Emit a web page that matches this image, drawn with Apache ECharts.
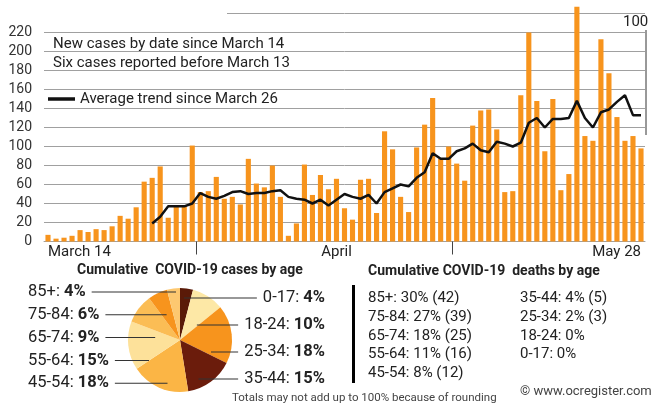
<!DOCTYPE html>
<html>
<head>
<meta charset="utf-8">
<script src="https://cdn.jsdelivr.net/npm/echarts@6/dist/echarts.min.js"></script>
<style>
  html, body { margin: 0; padding: 0; background: #fff; }
  #main { width: 661px; height: 408px; }
</style>
</head>
<body>
<div id="main"></div>
<script>
// new cases, one bar per day
var newCases = [7, 3, 4, 6, 12, 10, 13, 12, 16, 27, 24, 36, 63, 67, 79, 25, 37, 37, 101, 52,
  53, 68, 45, 47, 39, 87, 61, 57, 80, 47, 6, 19, 81, 49, 70, 55, 66, 35, 23, 65,
  66, 30, 116, 97, 47, 31, 99, 123, 151, 87, 100, 82, 64, 122, 138, 139, 118, 52, 53, 154,
  220, 148, 95, 150, 54, 71, 247, 111, 106, 213, 177, 131, 106, 111, 98]
// average trend, first 13 days have no value
var avgTrend = [null, null, null, null, null, null, null, null, null, null, null, null, null,
  19, 26, 37, 37, 37, 40, 51, 47, 45, 48, 52, 53, 50, 51, 51, 53, 54, 47, 45, 44, 40, 44, 38,
  44, 50, 47, 45, 49, 40, 52, 56, 60, 58, 67, 73, 93, 87, 87, 95, 98, 103, 96, 94, 105,
  103, 100, 104, 125, 130, 120, 129, 129, 130, 148, 130, 120, 136, 139, 147, 154, 133, 133]
var xLabels = ['March 14', 'April', 'May 28']
var xLabelAt = [0, 36, 74]
var monthTicks = [19, 51]

var caseAges = ['0-17', '18-24', '25-34', '35-44', '45-54', '55-64', '65-74', '75-84', '85+']
var casePct = [4, 10, 18, 15, 18, 15, 9, 6, 4]
var caseColors = ['#5a1a08', '#fde8a6', '#f7941d', '#6b1c0c', '#fbb545', '#fde19a', '#fbbd55', '#f7941d', '#fdc870']

var deathAges = ['85+', '75-84', '65-74', '55-64', '45-54', '35-44', '25-34', '18-24', '0-17']
var deathPct = [30, 27, 18, 11, 8, 4, 2, 0, 0]
var deathCount = [42, 39, 25, 16, 12, 5, 3, null, null]

var FONT = 'Roboto, "Noto Sans", sans-serif'
var PIE_FS = 16.5

// pie placement
var PIE_BOX = { left: 28, top: 280, width: 297, height: 122 }
var PIE_CX = 180
var PIE_CY = 340
var PIE_R = 52
var GAP = 6

var days = []
for (var i = 0; i < newCases.length; i++) days.push(String(i + 1))

function deathLine (k) {
  var s = deathAges[k] + ': ' + deathPct[k] + '%'
  if (deathCount[k] != null) s += ' (' + deathCount[k] + ')'
  return s
}
var deathCol1 = []
var deathCol2 = []
for (var k = 0; k < deathAges.length; k++) {
  if (k < 5) deathCol1.push(deathLine(k))
  else deathCol2.push(deathLine(k))
}

var pieData = caseAges.map(function (a, i) {
  return { name: a, value: casePct[i], itemStyle: { color: caseColors[i] } }
})

// mid angle of each slice, clockwise from 12 o'clock
var pieTotal = casePct.reduce(function (a, b) { return a + b }, 0)
var midAngle = []
var cum = 0
casePct.forEach(function (v) {
  midAngle.push((cum + v / 2) / pieTotal * Math.PI * 2)
  cum += v
})

// measure the label text so the leader line can run into the slice
var ctx = document.createElement('canvas').getContext('2d')
function textW (str, bold) {
  ctx.font = (bold ? 'bold ' : '') + PIE_FS + 'px ' + FONT
  return ctx.measureText(str).width
}

var pieRich = {
  a: { fontSize: PIE_FS, color: '#222', fontFamily: FONT },
  b: { fontSize: PIE_FS, color: '#222', fontWeight: 'bold', fontFamily: FONT },
  sp: { width: GAP, height: 1 }
}
caseAges.forEach(function (a, i) {
  var s = Math.sin(midAngle[i])
  var w = textW(a + ': ', false) + textW(casePct[i] + '%', true)
  var tipX = PIE_CX + s * PIE_R * 0.6
  var len = s > 0
    ? (PIE_BOX.left + PIE_BOX.width - w - GAP) - tipX
    : tipX - (PIE_BOX.left + w + GAP)
  pieRich['ln' + i] = { width: Math.max(len, 0), height: 1, backgroundColor: '#333', verticalAlign: 'middle' }
})

function pieLabelText (p) {
  var i = p.dataIndex
  var txt = '{a|' + p.name + ': }{b|' + p.value + '%}'
  if (Math.sin(midAngle[i]) > 0) return '{ln' + i + '|}{sp|}' + txt
  return txt + '{sp|}{ln' + i + '|}'
}

// labels stacked down each side of the pie
function pieLabelLayout (p) {
  var i = p.dataIndex
  var onRight = Math.sin(midAngle[i]) > 0
  var y = onRight ? 298 + i * 27 : 292 + (casePct.length - 1 - i) * 22.8
  return {
    x: onRight ? PIE_BOX.left + PIE_BOX.width : PIE_BOX.left,
    y: y,
    align: onRight ? 'right' : 'left',
    verticalAlign: 'middle'
  }
}

var chart = echarts.init(document.getElementById('main'))

var option = {
  animation: false,
  textStyle: { fontFamily: FONT },
  title: [
    { text: 'New cases by date since March 14', left: 53, top: 35, padding: 0,
      textStyle: { fontSize: 15, fontWeight: 'normal', color: '#222', lineHeight: 18 } },
    { text: 'Six cases reported before March 13', left: 53, top: 54, padding: 0,
      textStyle: { fontSize: 15, fontWeight: 'normal', color: '#222', lineHeight: 18 } },
    { text: '100', left: 623, top: 13, padding: 0,
      textStyle: { fontSize: 15, fontWeight: 'normal', color: '#222', lineHeight: 18 } },
    { text: 'Cumulative  COVID-19 cases by age', left: 77, top: 262, padding: 0,
      textStyle: { fontSize: 14, fontWeight: 'bold', color: '#222', lineHeight: 16 } },
    { text: 'Cumulative COVID-19  deaths by age', left: 368, top: 263, padding: 0,
      textStyle: { fontSize: 14, fontWeight: 'bold', color: '#222', lineHeight: 16 } },
    { text: deathCol1.join('\n'), left: 368, top: 289, padding: 0,
      textStyle: { fontSize: 15, fontWeight: 'normal', color: '#222', lineHeight: 18.7 } },
    { text: deathCol2.join('\n'), left: 520, top: 289, padding: 0,
      textStyle: { fontSize: 15, fontWeight: 'normal', color: '#222', lineHeight: 18.7 } },
    { text: 'Totals may not add up to 100% because of rounding', left: 232, top: 391, padding: 0,
      textStyle: { fontSize: 11.5, fontWeight: 'normal', color: '#444', lineHeight: 14 } },
    { text: '\u00a9 www.ocregister.com', left: 520, top: 384, padding: 0,
      textStyle: { fontSize: 13, fontWeight: 'normal', color: '#444', lineHeight: 16 } }
  ],
  legend: {
    data: ['Average trend since March 26'],
    left: 48, top: 90, padding: 0,
    icon: 'rect', itemWidth: 27, itemHeight: 3.5, itemGap: 5,
    textStyle: { fontSize: 15, color: '#222', lineHeight: 18 }
  },
  grid: { left: 44, right: 16, top: 13.5, bottom: 166.5 },
  xAxis: [
    {
      type: 'category',
      data: days,
      axisLine: { show: true, lineStyle: { color: '#a0a0a0' } },
      axisTick: { show: false },
      axisLabel: {
        interval: function (i) { return xLabelAt.indexOf(i) >= 0 },
        formatter: function (v, i) { return xLabels[xLabelAt.indexOf(i)] || '' },
        alignMinLabel: 'left',
        alignMaxLabel: 'right',
        margin: 3,
        fontSize: 15,
        color: '#222'
      }
    },
    {
      type: 'value',
      min: 0,
      max: days.length,
      position: 'bottom',
      axisLine: { show: false },
      splitLine: { show: false },
      axisLabel: { show: false },
      axisTick: { show: true, customValues: monthTicks, length: 13, inside: false,
        lineStyle: { color: '#444' } }
    }
  ],
  yAxis: {
    type: 'value',
    min: 0,
    max: 240,
    interval: 20,
    axisLine: { show: false },
    axisTick: { show: false },
    axisLabel: {
      margin: 12,
      fontSize: 14,
      color: '#333',
      formatter: function (v) { return v === 240 ? '' : v }
    },
    splitLine: { lineStyle: { color: '#a0a0a0', width: 1 } }
  },
  graphic: [
    { type: 'rect', z: 5, shape: { x: 0, y: 5, width: 227, height: 16 }, style: { fill: '#fff' } },
    { type: 'line', z: 5, shape: { x1: 646, y1: 30, x2: 646, y2: 135 }, style: { stroke: '#333', lineWidth: 1 } },
    { type: 'rect', z: 5, shape: { x: 352, y: 285, width: 3, height: 98 }, style: { fill: '#000' } }
  ],
  series: [
    {
      name: 'New cases by date since March 14',
      type: 'bar',
      data: newCases,
      barWidth: '64%',
      clip: false,
      itemStyle: { color: '#f7941d' },
      emphasis: { disabled: true }
    },
    {
      name: 'Average trend since March 26',
      type: 'line',
      data: avgTrend,
      showSymbol: false,
      symbol: 'none',
      color: '#111',
      lineStyle: { color: '#111', width: 2.5 },
      z: 3,
      emphasis: { disabled: true }
    },
    {
      type: 'pie',
      left: PIE_BOX.left,
      top: PIE_BOX.top,
      width: PIE_BOX.width,
      height: PIE_BOX.height,
      center: [PIE_CX - PIE_BOX.left, PIE_CY - PIE_BOX.top],
      radius: PIE_R,
      startAngle: 90,
      data: pieData,
      z: 2,
      label: {
        position: 'outside',
        alignTo: 'edge',
        edgeDistance: 0,
        overflow: 'none',
        formatter: pieLabelText,
        rich: pieRich
      },
      labelLine: { show: false },
      labelLayout: pieLabelLayout,
      emphasis: { disabled: true }
    }
  ]
}

chart.setOption(option)
</script>
</body>
</html>
